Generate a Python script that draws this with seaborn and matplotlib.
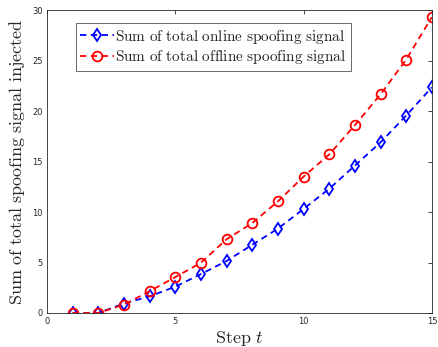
import matplotlib
matplotlib.use("Agg")
import matplotlib.pyplot as plt
import seaborn as sns
import pandas as pd

steps = list(range(1, 16))
online = [0.0, 0.0, 0.93, 1.65, 2.6, 3.85, 5.15, 6.75, 8.35, 10.3, 12.3, 14.6, 16.9, 19.55, 22.35]
offline = [0.0, 0.0, 0.83, 2.15, 3.55, 4.97, 7.3, 8.9, 11.05, 13.5, 15.7, 18.6, 21.65, 25.1, 29.3]
series_names = ["Sum of total online spoofing signal", "Sum of total offline spoofing signal"]
x_ticks = [0, 5, 10, 15]
y_ticks = [0, 5, 10, 15, 20, 25, 30]

sns.set_style("white")
plt.rcParams["mathtext.fontset"] = "cm"
plt.rcParams["font.family"] = ["DejaVu Sans"]

df = pd.DataFrame({
    "step": steps * 2,
    "value": online + offline,
    "series": [series_names[0]] * len(steps) + [series_names[1]] * len(steps),
})

fig = plt.figure(figsize=(4.38, 3.47), dpi=100)
ax = fig.add_axes([0.107, 0.098, 0.879, 0.873])

sub_on = df[df.series == series_names[0]]
sub_off = df[df.series == series_names[1]]
sns.lineplot(data=sub_on, x="step", y="value", ax=ax, color="#0000ff", linestyle="--",
             linewidth=1.3, marker="d", markersize=6.5, markerfacecolor="none",
             markeredgecolor="#0000ff", markeredgewidth=1.3, label=r"$\mathrm{Sum\ of\ total\ online\ spoofing\ signal}$",
             dashes=False)
sns.lineplot(data=sub_off, x="step", y="value", ax=ax, color="#ff0000", linestyle="--",
             linewidth=1.3, marker="o", markersize=7, markerfacecolor="none",
             markeredgecolor="#ff0000", markeredgewidth=1.3, label=r"$\mathrm{Sum\ of\ total\ offline\ spoofing\ signal}$",
             dashes=False)
for l in ax.lines:
    l.set_linestyle((0, (3.5, 2.5)))

ax.set_xlim(0, 15)
ax.set_ylim(0, 30)
ax.set_xticks(x_ticks)
ax.set_yticks(y_ticks)
ax.tick_params(axis="both", which="both", direction="in", length=3, width=0.6,
               labelsize=6, colors="#262626", top=True, right=True, pad=3)
for s in ax.spines.values():
    s.set_color("#262626")
    s.set_linewidth(0.6)

ax.set_xlabel(r"$\mathrm{Step}\ t$", fontsize=13, color="#262626", labelpad=2)
ax.set_ylabel(r"$\mathrm{Sum\ of\ total\ spoofing\ signal\ injected}$", fontsize=13, color="#262626", labelpad=4)

leg = ax.legend(loc="upper left", bbox_to_anchor=(0.075, 0.957), fontsize=11, frameon=True,
                fancybox=False, edgecolor="#262626", handlelength=2.2, handletextpad=0.1,
                borderpad=0.3, labelspacing=0.15, borderaxespad=0)
leg.get_frame().set_linewidth(0.6)

fig.savefig("out.png", dpi=100)
